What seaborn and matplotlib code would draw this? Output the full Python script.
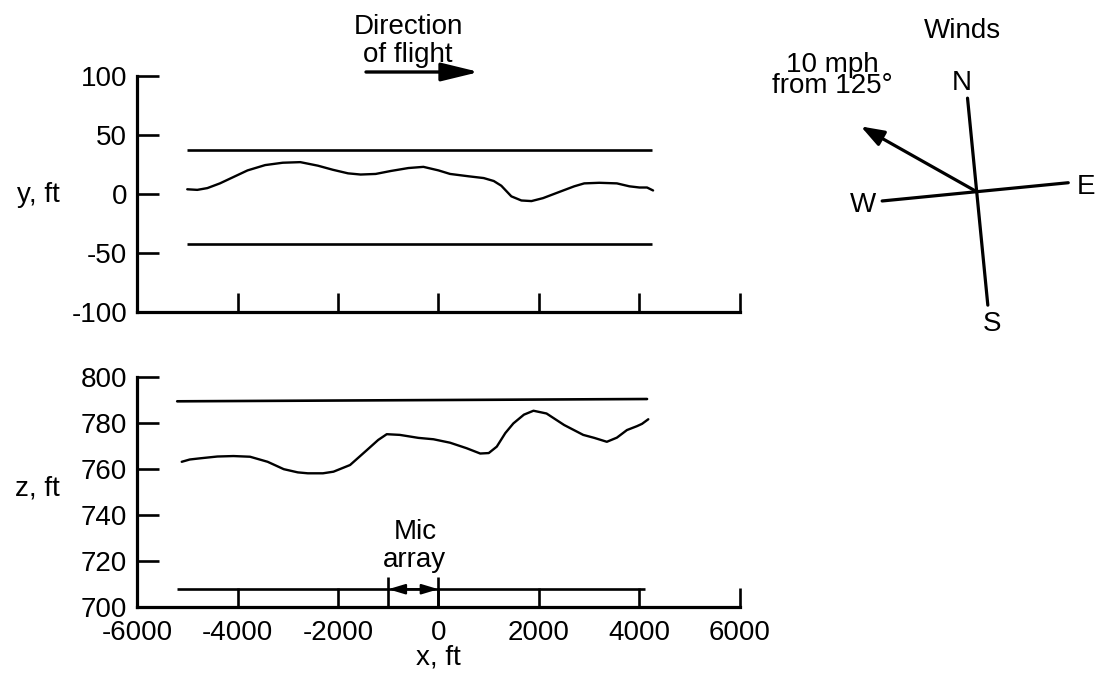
import numpy as np
import pandas as pd
import matplotlib
matplotlib.use("Agg")
import matplotlib.pyplot as plt
import seaborn as sns

# ---- flight track data -------------------------------------------------
# lateral offset of the aircraft (ft) versus distance along track (ft)
track_x = [-5000, -4800, -4600, -4350, -4100, -3800, -3450, -3100, -2750,
           -2400, -2100, -1800, -1550, -1250, -950, -600, -300, 0, 230,
           600, 900, 1100, 1250, 1450, 1650, 1850, 2080, 2420, 2700, 2900,
           3200, 3550, 3800, 4000, 4150, 4270]
track_y = [4, 3.5, 5, 9, 14, 20, 24.5, 26.5, 27,
           24, 20.5, 17.5, 16.5, 17, 19.5, 22, 23, 20, 17,
           15, 13.5, 11, 7, -2, -5.5, -6, -3.5, 2, 6.5, 9,
           9.5, 9, 6.5, 5.5, 5.5, 3]

# altitude of the aircraft (ft) versus distance along track (ft)
alt_x = [-5110, -4950, -4750, -4400, -4080, -3750, -3400, -3080, -2800,
         -2600, -2300, -2090, -1760, -1430, -1200, -1030, -770, -400, -100,
         230, 560, 830, 1000, 1160, 1330, 1490, 1700, 1890, 2150, 2500,
         2880, 3100, 3350, 3550, 3750, 3950, 4050, 4175]
alt_z = [763, 764, 764.5, 765.3, 765.5, 765.2, 763, 759.8, 758.4,
         758, 758, 758.7, 761.6, 768, 772.5, 775, 774.7, 773.4, 772.8,
         771.3, 768.9, 766.6, 766.8, 769.6, 775.5, 779.7, 783.5, 785.2, 784, 779,
         774.7, 773.4, 771.7, 773.5, 776.8, 778.5, 779.5, 781.5]

# tolerance boundaries
lateral_bounds = [37.5, -42.5]
lateral_span = [-5000, 4250]
alt_upper = [789.3, 790.3]
alt_upper_span = [-5200, 4150]
ground_level = 707.6
ground_span = [-5200, 4100]
mic_array = [-1000, 0]

# axis ticks
x_ticks = [-6000, -4000, -2000, 0, 2000, 4000, 6000]
y_ticks = [-100, -50, 0, 50, 100]
z_ticks = [700, 720, 740, 760, 780, 800]

# wind
wind_speed_mph = 10
wind_from_deg = 125

sns.set_theme(style="ticks")
plt.rcParams["font.family"] = ["Liberation Sans", "DejaVu Sans"]
plt.rcParams["axes.unicode_minus"] = False
plt.rcParams["text.color"] = "black"
plt.rcParams["axes.labelcolor"] = "black"
plt.rcParams["xtick.color"] = "black"
plt.rcParams["ytick.color"] = "black"

FS = 20
W, H = 1108, 676
fig = plt.figure(figsize=(W / 100, H / 100), dpi=100)
fig.patch.set_facecolor("white")

ax1 = fig.add_axes([137 / W, 1 - 312 / H, 603 / W, 236 / H])
ax2 = fig.add_axes([137 / W, 1 - 606.7 / H, 603 / W, 230 / H])

track = pd.DataFrame({"x": track_x, "y": track_y})
alt = pd.DataFrame({"x": alt_x, "z": alt_z})

sns.lineplot(data=track, x="x", y="y", ax=ax1, color="black", lw=1.7,
             sort=False, estimator=None)
sns.lineplot(data=alt, x="x", y="z", ax=ax2, color="black", lw=1.7,
             sort=False, estimator=None)

ax1.hlines(lateral_bounds, lateral_span[0], lateral_span[1], color="black", lw=1.9)
ax2.plot(alt_upper_span, alt_upper, color="black", lw=1.9)
ax2.hlines(ground_level, ground_span[0], ground_span[1], color="black", lw=1.9)
ax2.vlines(mic_array, 700, 712.8, color="black", lw=1.9, clip_on=False)
ax2.annotate("", xy=(mic_array[0], ground_level), xytext=(mic_array[1], ground_level),
             arrowprops=dict(arrowstyle="<|-|>,head_length=0.5,head_width=0.15",
                             mutation_scale=20, lw=1.6, color="black",
                             shrinkA=0, shrinkB=0))
ax2.text(-470, 717.4, "Mic\narray", ha="center", va="baseline", fontsize=FS,
         multialignment="center", linespacing=1.1)

for ax, yt, ylim in [(ax1, y_ticks, (-100, 100)), (ax2, z_ticks, (700, 800))]:
    ax.set_xlim(-6000, 6000)
    ax.set_ylim(*ylim)
    ax.set_xticks(x_ticks)
    ax.set_yticks(yt)
    ax.set_facecolor("none")
    for s in ["top", "right"]:
        ax.spines[s].set_visible(False)
    for s in ["left", "bottom"]:
        ax.spines[s].set_linewidth(2.3)
        ax.spines[s].set_color("black")
    ax.tick_params(axis="x", direction="in", length=13.5, width=1.9,
                   labelsize=FS, pad=9.5, colors="black")
    ax.tick_params(axis="y", direction="in", length=15.6, width=1.9,
                   labelsize=FS, pad=7, colors="black")
    ax.set_xlabel("")

ax1.tick_params(axis="x", labelbottom=False)
ax1.set_ylabel("y, ft", rotation=0, ha="center", va="center", fontsize=FS)
ax1.yaxis.set_label_coords(-0.164, 0.496)
ax2.set_ylabel("z, ft", rotation=0, ha="center", va="center", fontsize=FS)
ax2.yaxis.set_label_coords(-0.166, 0.516)
ax2.set_xlabel("x, ft", fontsize=FS, va="center")
ax2.xaxis.set_label_coords(0.499, -0.222)

# ---- annotation layer in pixel coordinates ----------------------------
ov = fig.add_axes([0, 0, 1, 1])
ov.set_xlim(0, W)
ov.set_ylim(H, 0)
ov.axis("off")

ov.text(408, 61.5, "Direction\nof flight", ha="center", va="baseline", fontsize=FS,
        multialignment="center", linespacing=1.09)
ov.annotate("", xy=(479, 72), xytext=(366, 72),
            arrowprops=dict(arrowstyle="-|>,head_length=1.15,head_width=0.28",
                            mutation_scale=20, lw=2.4, color="black",
                            shrinkA=0, shrinkB=0))

# wind rose
cx, cy = 976.7, 191.7
rot = 5.6
arms = {"N": (90, 94, 112), "E": (0, 92, 110), "S": (270, 114, 131), "W": (180, 95, 114)}
for lab, (base, L, Lt) in arms.items():
    th = np.deg2rad(base + rot)
    ov.plot([cx, cx + L * np.cos(th)], [cy, cy - L * np.sin(th)], color="black", lw=2.3)
    tth = np.deg2rad(base + rot + {"N": 2, "E": -2, "S": 1, "W": 0}[lab])
    ov.text(cx + Lt * np.cos(tth), cy - Lt * np.sin(tth) + 9.5, lab,
            ha="center", va="baseline", fontsize=FS)

toward = (wind_from_deg + 180) % 360
th = np.deg2rad(90 + rot - toward)
La = 133
ov.annotate("", xy=(cx + La * np.cos(th), cy - La * np.sin(th)), xytext=(cx, cy),
            arrowprops=dict(arrowstyle="-|>,head_length=0.7,head_width=0.25",
                            mutation_scale=20, lw=2.3, color="black",
                            shrinkA=0, shrinkB=0))
ov.text(962, 38, "Winds", ha="center", va="baseline", fontsize=FS)
ov.text(832, 93.3, f"{wind_speed_mph} mph\nfrom {wind_from_deg}°", ha="center",
        va="baseline", fontsize=FS, multialignment="center", linespacing=0.78)

fig.savefig("out.png", dpi=100, facecolor="white")
